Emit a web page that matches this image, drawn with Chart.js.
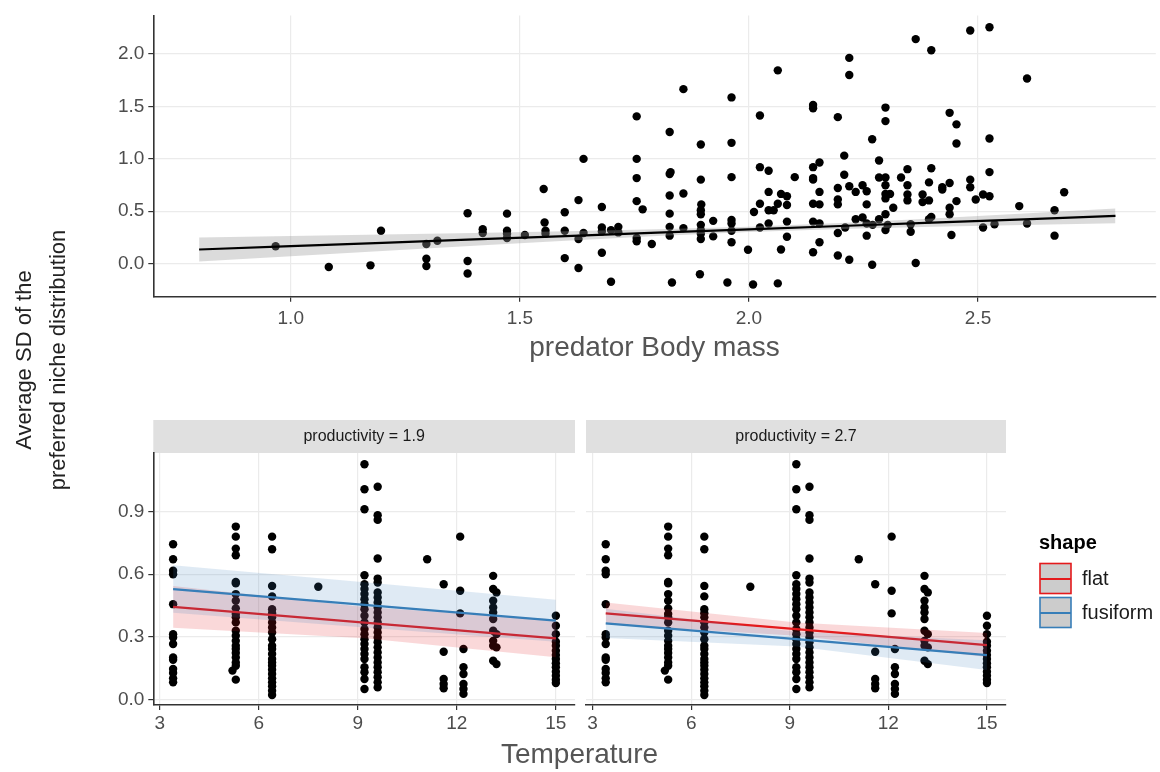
<!DOCTYPE html>
<html>
<head>
<meta charset="utf-8">
<script src="https://cdn.jsdelivr.net/npm/chart.js@4.4.1/dist/chart.umd.min.js"></script>
<style>
body{margin:0;background:#fff;}
#wrap{position:relative;width:1160px;height:772px;}
#wrap canvas{position:absolute;left:0;top:0;}
</style>
</head>
<body>
<div id="wrap">
<canvas id="topChart" width="1160" height="772" style="width:1160px;height:772px"></canvas>
<canvas id="leftChart" width="1160" height="772" style="width:1160px;height:772px"></canvas>
<canvas id="rightChart" width="1160" height="772" style="width:1160px;height:772px"></canvas>
</div>
<script>
// top panel: niche SD vs predator body mass
var bodyMass = [0.967,1.083,1.174,1.197,1.296,1.296,1.296,1.320,1.386,1.386,1.386,1.419,1.419,1.472,1.472,1.472,1.472,1.511,1.552,1.554,1.556,1.556,1.598,1.598,1.598,1.628,1.628,1.628,1.639,1.639,1.679,1.679,1.679,1.679,1.699,1.699,1.715,1.715,1.755,1.755,1.755,1.755,1.755,1.755,1.768,
 1.788,1.827,1.827,1.829,1.827,1.827,1.827,1.827,1.832,1.857,1.857,1.857,1.895,1.895,1.896,1.895,1.895,1.895,1.895,1.895,1.895,1.893,1.922,1.922,1.962,1.962,1.962,1.962,1.962,1.962,1.962,1.953,1.998,2.009,2.024,2.024,2.043,2.011,2.024,2.024,2.043,2.043,2.043,2.054,2.063,2.063,2.063,2.070,2.070,2.083,2.083,2.083,2.083,2.100,
 2.140,2.140,2.140,2.140,2.140,2.140,2.140,2.140,2.154,2.154,2.154,2.154,2.154,2.194,2.194,2.194,2.194,2.194,2.194,2.208,2.208,2.219,2.219,2.219,2.219,2.210,2.233,2.233,2.248,2.248,2.257,2.257,2.257,2.257,2.269,2.269,2.270,2.284,2.284,2.284,
 2.298,2.298,2.298,2.298,2.298,2.298,2.298,2.298,2.308,2.315,2.303,2.332,2.346,2.346,2.346,2.346,2.353,2.353,2.364,2.364,2.379,2.379,2.393,2.393,2.393,2.398,2.398,2.398,2.422,2.422,2.438,2.438,2.438,2.438,2.442,2.453,2.453,2.453,2.483,2.483,2.483,2.495,2.511,2.511,2.525,2.525,2.525,2.525,2.536,2.590,2.607,2.607,2.667,2.667,2.688];
var nicheSD = [0.166,-0.032,-0.016,0.314,0.188,0.047,-0.022,0.219,0.480,0.025,-0.094,0.329,0.292,0.477,0.314,0.285,0.245,0.273,0.712,0.392,0.314,0.285,0.490,0.314,0.053,0.606,0.235,-0.041,0.999,0.292,0.540,0.345,0.307,0.104,0.320,-0.173,0.351,0.298,1.404,0.999,0.816,0.596,0.245,0.213,0.518,
 0.188,1.256,0.854,0.873,0.650,0.477,0.351,0.267,-0.179,1.664,0.669,0.339,1.136,0.801,0.565,0.509,0.471,0.370,0.320,0.285,0.235,-0.101,0.408,0.260,1.585,1.152,0.825,0.417,0.383,0.314,0.204,-0.179,0.132,-0.198,1.413,0.920,0.886,0.493,0.571,0.345,0.684,0.509,0.383,0.509,1.843,0.571,-0.188,0.665,0.135,0.643,0.559,0.401,0.257,0.825,
 1.513,1.482,0.920,0.816,0.801,0.571,0.401,0.109,0.964,0.684,0.565,0.383,0.204,1.397,0.722,0.612,0.565,0.292,0.078,1.030,0.848,1.962,1.799,0.738,0.038,0.345,0.684,0.424,0.747,0.440,0.691,0.565,0.383,0.267,1.186,-0.010,0.370,0.983,0.822,0.424,
 1.488,1.359,0.822,0.747,0.665,0.622,0.471,0.320,0.665,0.533,0.370,0.822,0.901,0.747,0.659,0.603,0.376,0.304,2.141,0.006,0.659,0.587,0.775,0.603,0.424,0.910,2.035,0.446,0.728,0.706,1.438,0.769,0.533,0.471,0.273,1.328,1.146,0.596,2.223,0.801,0.728,0.612,0.659,0.345,2.254,1.193,0.873,0.643,0.376,0.549,1.765,0.383,0.509,0.267,0.681];
// linear fit with its band
var fitMass = [0.8,1.0,1.2,1.4,1.6,1.8,2.0,2.2,2.4,2.6,2.8];
var fitMid  = [0.135,0.167,0.199,0.231,0.263,0.295,0.327,0.359,0.391,0.423,0.455];
var fitLow  = [0.020,0.070,0.120,0.170,0.218,0.263,0.302,0.331,0.351,0.368,0.385];
var fitHigh = [0.250,0.264,0.278,0.292,0.308,0.327,0.352,0.387,0.431,0.478,0.525];
var massTicks = [1.0,1.5,2.0,2.5];
var sdTicksTop = [0,0.5,1.0,1.5,2.0];

// bottom panels: niche SD vs temperature (same points in both facets)
var tempCols = [3.4,5.3,5.2,6.4,7.8,9.2,9.6,11.1,11.6,12.1,12.2,13.1,13.2,15.0];
var sdCols = [
 [0.743,0.671,0.616,0.600,0.457,0.314,0.298,0.267,0.203,0.192,0.148,0.129,0.103,0.084],
 [0.827,0.779,0.722,0.690,0.563,0.556,0.505,0.473,0.437,0.410,0.394,0.370,0.330,0.306,0.282,0.259,0.243,0.224,0.203,0.179,0.163,0.097],
 [0.140],
 [0.779,0.719,0.544,0.494,0.433,0.414,0.394,0.370,0.346,0.322,0.290,0.259,0.243,0.219,0.195,0.179,0.163,0.144,0.124,0.103,0.084,0.065,0.044,0.024],
 [0.540],
 [1.124,1.005,0.910,0.595,0.552,0.529,0.505,0.481,0.457,0.433,0.402,0.370,0.338,0.314,0.290,0.267,0.243,0.219,0.195,0.156,0.132,0.100,0.052],
 [1.017,0.881,0.859,0.675,0.579,0.560,0.513,0.489,0.465,0.441,0.417,0.394,0.370,0.346,0.322,0.298,0.275,0.251,0.227,0.203,0.179,0.156,0.132,0.108,0.084,0.060],
 [0.671],
 [0.552,0.230,0.100,0.076,0.056],
 [0.779,0.521,0.413],
 [0.243,0.156,0.124,0.076,0.052,0.029],
 [0.592,0.529,0.473,0.441,0.417,0.386,0.330,0.282,0.259,0.187],
 [0.513,0.314,0.251,0.171],
 [0.402,0.354,0.314,0.278,0.259,0.235,0.214,0.195,0.175,0.156,0.135,0.116,0.097,0.081]
];
var tempFit = [3.4,9.2,15];
// productivity = 1.9
var flat19Mid = [0.444,0.369,0.294], flat19Low = [0.344,0.294,0.204], flat19High = [0.544,0.444,0.384];
var fusi19Mid = [0.529,0.454,0.378], fusi19Low = [0.416,0.346,0.278], fusi19High = [0.642,0.562,0.478];
// productivity = 2.7
var flat27Mid = [0.413,0.338,0.262], flat27Low = [0.361,0.306,0.205], flat27High = [0.465,0.370,0.319];
var fusi27Mid = [0.365,0.290,0.214], fusi27Low = [0.295,0.255,0.143], fusi27High = [0.435,0.325,0.285];
var tempTicks = [3,6,9,12,15];
var sdTicksBottom = [0,0.3,0.6,0.9];
var panels = ["productivity = 1.9","productivity = 2.7"];
var shapes = ["flat","fusiform"];
var shapeColors = ["#e41a1c","#377eb8"];
var shapeFills = ["rgba(228,26,28,0.17)","rgba(55,126,184,0.16)"];

var FONT = '"Liberation Sans", Arial, sans-serif';

function pts(xs, ys){
    var out=[];
    for (var i=0;i<xs.length;i++) out.push({x:xs[i], y:ys[i]});
    return out;
}
function fixTicks(vals){
    return function(scale){ scale.ticks = vals.map(function(v){ return {value:v}; }); };
}
function smoothSets(xs, mid, lo, hi, col, fillCol){
    return [
        {type:'line', data:pts(xs,mid), borderColor:col, borderWidth:2.2, pointRadius:0, fill:false, tension:0},
        {type:'line', data:pts(xs,lo), borderColor:'rgba(0,0,0,0)', borderWidth:1, pointRadius:0, fill:false},
        {type:'line', data:pts(xs,hi), borderColor:'rgba(0,0,0,0)', borderWidth:1, pointRadius:0, fill:'-1', backgroundColor:fillCol}
    ];
}
function axisX(min, max, ticks, h, labelFmt, pad){
    return {
        type:'linear', min:min, max:max,
        afterBuildTicks: fixTicks(ticks),
        afterFit: function(s){ s.height = h; },
        grid: {color:'#ebebeb', lineWidth:1.2, tickColor:'#333', tickLength:5, tickWidth:1.2},
        border: {display:true, color:'#333', width:1.6},
        ticks: {color:'#4d4d4d', font:{size:19, family:FONT}, padding:pad, maxRotation:0, autoSkip:false, callback:labelFmt}
    };
}
function axisY(min, max, ticks, w, showLabels){
    return {
        type:'linear', min:min, max:max,
        afterBuildTicks: fixTicks(ticks),
        afterFit: function(s){ s.width = w; },
        grid: {color:'#ebebeb', lineWidth:1.2, tickColor:'#333', tickLength:showLabels?5:0, tickWidth:1.2, drawTicks:showLabels},
        border: {display:showLabels, color:'#333', width:1.6},
        ticks: {display:showLabels, color:'#4d4d4d', font:{size:19, family:FONT}, padding:4, autoSkip:false,
                callback:function(v){ return v.toFixed(1); }}
    };
}

// grey strip with the facet label above the panel
var stripPlugin = {
    id:'strip',
    beforeDraw: function(chart, args, opts){
        var a = chart.chartArea, ctx = chart.ctx;
        ctx.save();
        ctx.fillStyle = '#e0e0e0';
        ctx.fillRect(a.left, a.top-33, a.right-a.left, 33);
        ctx.fillStyle = '#1a1a1a';
        ctx.font = '16px ' + FONT;
        ctx.textAlign = 'center';
        ctx.textBaseline = 'middle';
        ctx.fillText(opts.text, (a.left+a.right)/2, a.top-16);
        ctx.restore();
    }
};

// shared y title, shared x title of the facets and the legend
var pagePlugin = {
    id:'page',
    afterDraw: function(chart){
        var ctx = chart.ctx;
        ctx.save();
        ctx.fillStyle = '#555';
        ctx.font = '28px ' + FONT;
        ctx.textAlign = 'center';
        ctx.textBaseline = 'middle';
        ctx.fillText('Temperature', 579.5, 755);

        ctx.translate(0, 360);
        ctx.rotate(-Math.PI/2);
        ctx.fillStyle = '#222';
        ctx.font = '22px ' + FONT;
        ctx.fillText('Average SD of the', 0, 25);
        ctx.fillText('preferred niche distribution', 0, 59);
        ctx.restore();

        ctx.save();
        ctx.textAlign = 'left';
        ctx.textBaseline = 'middle';
        ctx.fillStyle = '#000';
        ctx.font = 'bold 20px ' + FONT;
        ctx.fillText('shape', 1039, 543);
        for (var i=0;i<shapes.length;i++){
            var y0 = 563.5 + i*34;
            ctx.fillStyle = '#cccccc';
            ctx.fillRect(1040, y0, 31, 30);
            ctx.strokeStyle = shapeColors[i];
            ctx.lineWidth = 1.6;
            ctx.strokeRect(1040, y0, 31, 30);
            ctx.lineWidth = 2;
            ctx.beginPath();
            ctx.moveTo(1040, y0+15.5);
            ctx.lineTo(1071, y0+15.5);
            ctx.stroke();
            ctx.fillStyle = '#1a1a1a';
            ctx.font = '20px ' + FONT;
            ctx.fillText(shapes[i], 1082, y0+16);
        }
        ctx.restore();
    }
};

var common = {
    responsive:false,
    animation:false,
    events:[],
    plugins:{legend:{display:false}, tooltip:{enabled:false}}
};

// top chart
var topSets = smoothSets(fitMass, fitMid, fitLow, fitHigh, '#000', 'rgba(153,153,153,0.35)');
topSets.push({type:'scatter', data:pts(bodyMass,nicheSD), backgroundColor:'#000', borderWidth:0, pointRadius:4.2});
var topX = axisX(0.7, 2.888, massTicks, 76, function(v){ return v.toFixed(1); }, 6);
topX.title = {display:true, text:'predator Body mass', color:'#555', font:{size:28, family:FONT}, padding:{top:4, bottom:8}};
new Chart(document.getElementById('topChart').getContext('2d'), {
    type:'scatter',
    data:{datasets:topSets},
    options:Object.assign({}, common, {
        layout:{padding:{left:103.3, right:0, top:12, bottom:399.3}},
        scales:{x:topX, y:axisY(-0.315, 2.367, sdTicksTop, 50, true)}
    })
});

// facets
var tempPts = [];
for (var c=0;c<tempCols.length;c++){
    for (var k=0;k<sdCols[c].length;k++) tempPts.push({x:tempCols[c], y:sdCols[c][k]});
}
function facetSets(fl, flLo, flHi, fu, fuLo, fuHi){
    var s = [];
    s = s.concat(smoothSets(tempFit, fu, fuLo, fuHi, shapeColors[1], shapeFills[1]));
    s = s.concat(smoothSets(tempFit, fl, flLo, flHi, shapeColors[0], shapeFills[0]));
    s.push({type:'scatter', data:tempPts, backgroundColor:'#000', borderWidth:0, pointRadius:4.2});
    return s;
}
var intFmt = function(v){ return String(v); };

new Chart(document.getElementById('leftChart').getContext('2d'), {
    type:'scatter',
    data:{datasets:facetSets(flat19Mid,flat19Low,flat19High,fusi19Mid,fusi19Low,fusi19High)},
    options:Object.assign({}, common, {
        layout:{padding:{left:103.3, right:585, top:453, bottom:32}},
        plugins:{legend:{display:false}, tooltip:{enabled:false}, strip:{text:panels[0]}},
        scales:{x:axisX(2.8, 15.58, tempTicks, 35, intFmt, 2), y:axisY(-0.024, 1.178, sdTicksBottom, 50, true)}
    }),
    plugins:[stripPlugin]
});

new Chart(document.getElementById('rightChart').getContext('2d'), {
    type:'scatter',
    data:{datasets:facetSets(flat27Mid,flat27Low,flat27High,fusi27Mid,fusi27Low,fusi27High)},
    options:Object.assign({}, common, {
        layout:{padding:{left:586, right:154, top:453, bottom:32}},
        plugins:{legend:{display:false}, tooltip:{enabled:false}, strip:{text:panels[1]}},
        scales:{x:axisX(2.8, 15.58, tempTicks, 35, intFmt, 2), y:axisY(-0.024, 1.178, sdTicksBottom, 0, false)}
    }),
    plugins:[stripPlugin, pagePlugin]
});
</script>
</body>
</html>
